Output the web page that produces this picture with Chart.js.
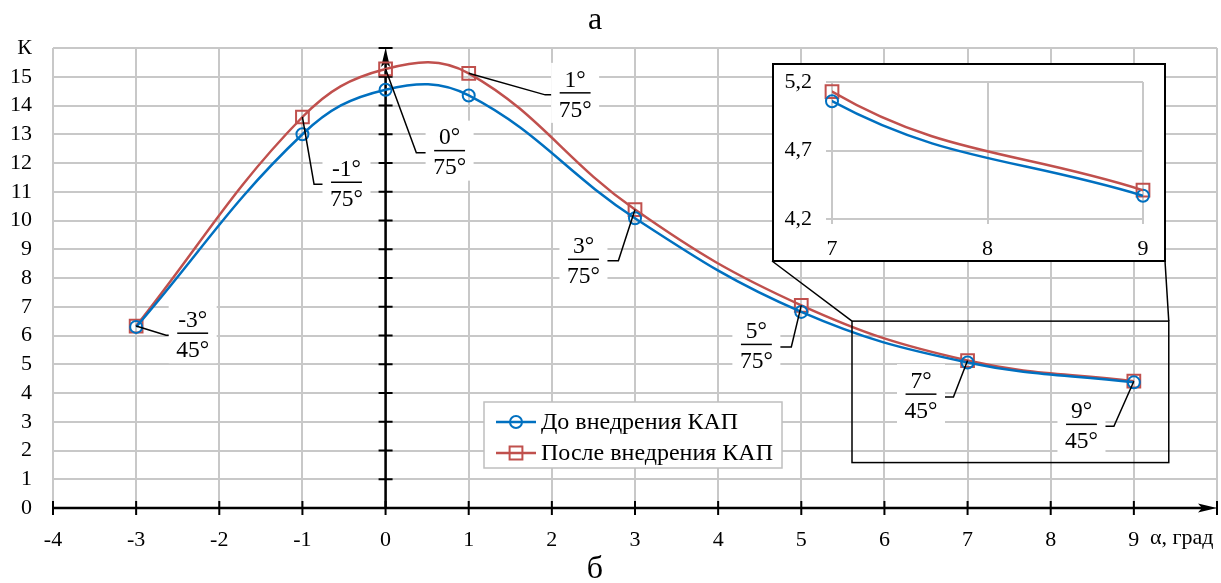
<!DOCTYPE html>
<html>
<head>
<meta charset="utf-8">
<script src="https://cdn.jsdelivr.net/npm/chart.js@4.4.1/dist/chart.umd.min.js"></script>
<style>
  html, body { margin: 0; padding: 0; background: #fff; }
  #wrap { position: relative; width: 1221px; height: 583px; }
  #main { position: absolute; left: 0; top: 0; }
  #inset { position: absolute; }
</style>
</head>
<body>
<div id="wrap">
  <canvas id="main" width="1221" height="583"></canvas>
  <canvas id="inset" width="394" height="199"></canvas>
</div>
<script>
// data
const xVals = [-3, -1, 0, 1, 3, 5, 7, 9];
const kBefore = [6.3, 13.0, 14.55, 14.35, 10.08, 6.82, 5.06, 4.37];
const kAfter = [6.33, 13.6, 15.27, 15.12, 10.38, 7.05, 5.13, 4.41];
const seriesNames = ['До внедрения КАП', 'После внедрения КАП'];
const noteTop = ['-3°', '-1°', '0°', '1°', '3°', '5°', '7°', '9°'];
const noteBottom = ['45°', '75°', '75°', '75°', '75°', '75°', '45°', '45°'];
const insetXTicks = [7, 8, 9];
const insetYTicks = [4.2, 4.7, 5.2];

// where the note labels sit (axis units): label centre and the bend of the leader
const noteAt = [[-2.32, 6.08], [-0.47, 11.33], [0.77, 12.43], [2.28, 14.44],
                [2.38, 8.65], [4.46, 5.69], [6.44, 3.96], [8.37, 2.91]];
const noteElbow = [[-2.64, 6.01], [-0.86, 11.26], [0.37, 12.36], [1.92, 14.37],
                   [2.80, 8.60], [4.88, 5.60], [6.83, 3.86], [8.76, 2.84]];
const zoomBox = { x0: 5.61, x1: 9.42, y0: 1.58, y1: 6.5 };
const insetPos = { left: 772, top: 63, w: 394, h: 199 };

const BLUE = '#0070C0';
const RED = '#C0504D';
const GRID = '#c8c8c8';
const SERIF = "'Liberation Serif', 'Times New Roman', serif";

const insetEl = document.getElementById('inset');
insetEl.style.left = insetPos.left + 'px';
insetEl.style.top = insetPos.top + 'px';

function toPts(ys) {
  return xVals.map((x, i) => ({ x: x, y: ys[i] }));
}

function lineSet(i, opts) {
  const blue = i === 0;
  return Object.assign({
    label: seriesNames[i],
    data: toPts(blue ? kBefore : kAfter),
    borderColor: blue ? BLUE : RED,
    borderWidth: 2.5,
    pointStyle: blue ? 'circle' : 'rect',
    pointRadius: blue ? 6 : 9,
    pointBorderWidth: 2,
    pointBorderColor: blue ? BLUE : RED,
    pointBackgroundColor: 'rgba(0,0,0,0)',
    tension: 0.4,
    fill: false
  }, opts || {});
}

function drawMarker(ctx, i, x, y) {
  ctx.save();
  ctx.lineWidth = 2;
  ctx.strokeStyle = i === 0 ? BLUE : RED;
  ctx.beginPath();
  if (i === 0) ctx.arc(x, y, 6, 0, Math.PI * 2);
  else ctx.rect(x - 6.4, y - 6.4, 12.8, 12.8);
  ctx.stroke();
  ctx.restore();
}

const NOTE_HW = 24, NOTE_HH = 30;

const decor = {
  id: 'decor',
  beforeDatasetsDraw(chart) {
    const ctx = chart.ctx, xs = chart.scales.x, ys = chart.scales.y;
    // white boxes behind the notes
    ctx.save();
    ctx.fillStyle = '#fff';
    noteAt.forEach(p => {
      const cx = xs.getPixelForValue(p[0]), cy = ys.getPixelForValue(p[1]);
      ctx.fillRect(cx - NOTE_HW, cy - NOTE_HH, NOTE_HW * 2, NOTE_HH * 2);
    });
    ctx.restore();

    // black axes with ticks and arrows
    const x0 = xs.getPixelForValue(0), y0 = ys.getPixelForValue(0);
    const xr = xs.getPixelForValue(10), yt = ys.getPixelForValue(16);
    const xl = xs.getPixelForValue(-4);
    ctx.save();
    ctx.strokeStyle = '#000';
    ctx.fillStyle = '#000';
    ctx.lineWidth = 2.5;
    ctx.beginPath();
    ctx.moveTo(xl, y0); ctx.lineTo(xr - 10, y0);
    ctx.moveTo(x0, y0); ctx.lineTo(x0, yt + 10);
    ctx.stroke();
    ctx.lineWidth = 2;
    ctx.beginPath();
    for (let v = -4; v <= 10; v++) {
      const px = xs.getPixelForValue(v);
      ctx.moveTo(px, y0 - 7); ctx.lineTo(px, y0 + 7);
    }
    for (let v = 1; v <= 16; v++) {
      const py = ys.getPixelForValue(v);
      ctx.moveTo(x0 - 7, py); ctx.lineTo(x0 + 7, py);
    }
    ctx.stroke();
    ctx.beginPath();
    ctx.moveTo(xr, y0); ctx.lineTo(xr - 19, y0 - 4.5); ctx.lineTo(xr - 15, y0); ctx.lineTo(xr - 19, y0 + 4.5);
    ctx.closePath();
    ctx.moveTo(x0, yt); ctx.lineTo(x0 - 4.5, yt + 19); ctx.lineTo(x0, yt + 15); ctx.lineTo(x0 + 4.5, yt + 19);
    ctx.closePath();
    ctx.fill();
    ctx.restore();
  },
  afterDatasetsDraw(chart) {
    const ctx = chart.ctx, xs = chart.scales.x, ys = chart.scales.y;
    ctx.save();
    // notes
    ctx.strokeStyle = '#000';
    ctx.fillStyle = '#000';
    ctx.font = '23.5px ' + SERIF;
    ctx.textAlign = 'center';
    ctx.textBaseline = 'middle';
    noteAt.forEach((p, i) => {
      const cx = xs.getPixelForValue(p[0]), cy = ys.getPixelForValue(p[1]);
      const ex = xs.getPixelForValue(noteElbow[i][0]), ey = ys.getPixelForValue(noteElbow[i][1]);
      const px = xs.getPixelForValue(xVals[i]), py = ys.getPixelForValue(kAfter[i]);
      const edge = ex < cx ? cx - NOTE_HW : cx + NOTE_HW;
      ctx.lineWidth = 1.5;
      ctx.beginPath();
      ctx.moveTo(px, py); ctx.lineTo(ex, ey); ctx.lineTo(edge, ey);
      ctx.stroke();
      ctx.fillText(noteTop[i], cx, cy - 12.5);
      ctx.fillText(noteBottom[i], cx, cy + 17.5);
      const w = Math.max(ctx.measureText(noteTop[i]).width, ctx.measureText(noteBottom[i]).width) - 2;
      ctx.beginPath();
      ctx.moveTo(cx - w / 2, cy); ctx.lineTo(cx + w / 2, cy);
      ctx.stroke();
    });

    // zoom rectangle and connectors to the inset
    const rx0 = xs.getPixelForValue(zoomBox.x0), rx1 = xs.getPixelForValue(zoomBox.x1);
    const ry0 = ys.getPixelForValue(zoomBox.y1), ry1 = ys.getPixelForValue(zoomBox.y0);
    ctx.lineWidth = 1.5;
    ctx.strokeRect(rx0, ry0, rx1 - rx0, ry1 - ry0);
    ctx.beginPath();
    ctx.moveTo(insetPos.left, insetPos.top + insetPos.h - 1); ctx.lineTo(rx0, ry0);
    ctx.moveTo(insetPos.left + insetPos.w - 1, insetPos.top + insetPos.h - 1); ctx.lineTo(rx1, ry0);
    ctx.stroke();

    // legend
    const lx = 484, ly = 402, lw = 298, lh = 66;
    ctx.fillStyle = '#fff';
    ctx.fillRect(lx, ly, lw, lh);
    ctx.strokeStyle = '#bfbfbf';
    ctx.lineWidth = 1.5;
    ctx.strokeRect(lx, ly, lw, lh);
    ctx.font = '24px ' + SERIF;
    ctx.textAlign = 'left';
    seriesNames.forEach((name, i) => {
      const ry = ly + 20 + i * 31;
      ctx.strokeStyle = i === 0 ? BLUE : RED;
      ctx.lineWidth = 2.5;
      ctx.beginPath();
      ctx.moveTo(lx + 12, ry); ctx.lineTo(lx + 52, ry);
      ctx.stroke();
      drawMarker(ctx, i, lx + 32, ry);
      ctx.fillStyle = '#000';
      ctx.fillText(name, lx + 57, ry + 1);
    });

    // axis name and panel letters
    ctx.fillStyle = '#000';
    ctx.font = '22px ' + SERIF;
    ctx.textAlign = 'left';
    ctx.fillText('α, град', 1150, 538);
    ctx.font = '32px ' + SERIF;
    ctx.textAlign = 'center';
    ctx.fillText('а', 595, 21);
    ctx.fillText('б', 595, 570);
    ctx.restore();
  }
};

const tickFont = { family: SERIF, size: 22 };

new Chart(document.getElementById('main'), {
  type: 'line',
  data: { datasets: [lineSet(0), lineSet(1)] },
  options: {
    responsive: false,
    animation: false,
    layout: { autoPadding: false, padding: { top: 48, right: 4, left: 0, bottom: 0 } },
    plugins: { legend: { display: false }, tooltip: { enabled: false } },
    scales: {
      x: {
        type: 'linear', min: -4, max: 10,
        ticks: { stepSize: 1, padding: 19, color: '#000', font: tickFont, maxRotation: 0, autoSkip: false,
                 callback: v => v === 10 ? '' : String(v) },
        grid: { color: GRID, lineWidth: 2, drawTicks: false },
        border: { display: false },
        afterFit: s => { s.height = 75; s.paddingRight = 0; s.paddingLeft = 0; }
      },
      y: {
        min: 0, max: 16,
        ticks: { stepSize: 1, padding: 21, color: '#000', font: tickFont, autoSkip: false,
                 callback: v => v === 16 ? 'К' : String(v) },
        grid: { color: GRID, lineWidth: 2, drawTicks: false },
        border: { display: false },
        afterFit: s => { s.width = 53; s.paddingTop = 0; s.paddingBottom = 0; }
      }
    }
  },
  plugins: [decor]
});

// inset: same data, zoomed on 7..9
const insetFrame = {
  id: 'insetFrame',
  beforeDraw(chart) {
    const ctx = chart.ctx;
    ctx.save();
    ctx.fillStyle = '#fff';
    ctx.fillRect(0, 0, chart.width, chart.height);
    ctx.restore();
  },
  afterDraw(chart) {
    const ctx = chart.ctx;
    ctx.save();
    ctx.strokeStyle = '#000';
    ctx.lineWidth = 2;
    ctx.strokeRect(1, 1, chart.width - 2, chart.height - 2);
    ctx.restore();
  }
};

function inRange(ys) {
  return toPts(ys).filter(p => p.x >= insetXTicks[0] && p.x <= insetXTicks[insetXTicks.length - 1]);
}

new Chart(insetEl, {
  type: 'line',
  data: {
    datasets: [
      lineSet(0, { pointRadius: 0 }),
      lineSet(1, { pointRadius: 0 }),
      lineSet(0, { data: inRange(kBefore), showLine: false, clip: false }),
      lineSet(1, { data: inRange(kAfter), showLine: false, clip: false })
    ]
  },
  options: {
    responsive: false,
    animation: false,
    layout: { autoPadding: false, padding: { top: 19, right: 23, left: 0, bottom: 0 } },
    plugins: { legend: { display: false }, tooltip: { enabled: false } },
    scales: {
      x: {
        type: 'linear', min: 7, max: 9,
        afterBuildTicks: s => { s.ticks = insetXTicks.map(v => ({ value: v })); },
        ticks: { padding: 12, color: '#000', font: tickFont, maxRotation: 0, callback: v => String(v) },
        grid: { color: GRID, lineWidth: 2, tickLength: 5, tickColor: GRID },
        border: { display: false },
        afterFit: s => { s.height = 43; s.paddingRight = 0; s.paddingLeft = 0; }
      },
      y: {
        min: 4.2, max: 5.2,
        afterBuildTicks: s => { s.ticks = insetYTicks.map(v => ({ value: v })); },
        ticks: { padding: 14, color: '#000', font: tickFont, callback: v => v.toFixed(1).replace('.', ',') },
        grid: { color: GRID, lineWidth: 2, tickLength: 6, tickColor: GRID },
        border: { display: false },
        afterFit: s => { s.width = 60; s.paddingTop = 0; s.paddingBottom = 0; }
      }
    }
  },
  plugins: [insetFrame]
});
</script>
</body>
</html>
